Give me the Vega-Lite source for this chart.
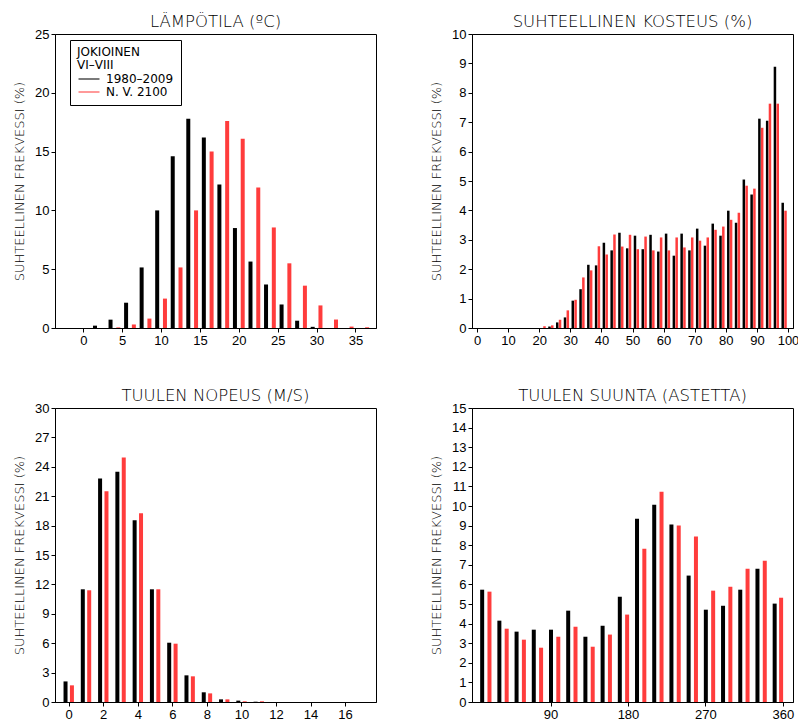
{
  "$schema": "https://vega.github.io/schema/vega-lite/v6.json",
  "background": "white",
  "padding": {"left": 13, "top": 13, "right": 5, "bottom": 0},
  "columns": 2,
  "bounds": "flush",
  "spacing": {"row": 80, "column": 96},
  "resolve": {"scale": {"color": "independent"}, "legend": {"color": "independent"}},
  "config": {
    "view": {"stroke": "black", "strokeWidth": 1},
    "axis": {
      "grid": false,
      "domainColor": "black",
      "tickColor": "black",
      "tickSize": 4,
      "labelPadding": 2,
      "labelFont": "Liberation Sans",
      "labelFontSize": 13,
      "labelColor": "black",
      "titleFont": "DejaVu Sans",
      "titleFontSize": 13,
      "titleFontWeight": 200,
      "titleColor": "black",
      "titlePadding": 8
    },
    "title": {
      "font": "DejaVu Sans",
      "fontSize": 16.5,
      "fontWeight": 200,
      "color": "black",
      "offset": -2,
      "baseline": "alphabetic",
      "anchor": "middle",
      "frame": "group"
    }
  },
  "datasets": {
    "temp": [
      {"x": 1.5, "series": "1980–2009", "freq": 0.2},
      {"x": 3.5, "series": "1980–2009", "freq": 0.71},
      {"x": 5.5, "series": "1980–2009", "freq": 2.15},
      {"x": 7.5, "series": "1980–2009", "freq": 5.15},
      {"x": 9.5, "series": "1980–2009", "freq": 10.0},
      {"x": 11.5, "series": "1980–2009", "freq": 14.6},
      {"x": 13.5, "series": "1980–2009", "freq": 17.8},
      {"x": 15.5, "series": "1980–2009", "freq": 16.2},
      {"x": 17.5, "series": "1980–2009", "freq": 12.2},
      {"x": 19.5, "series": "1980–2009", "freq": 8.5},
      {"x": 21.5, "series": "1980–2009", "freq": 5.65},
      {"x": 23.5, "series": "1980–2009", "freq": 3.7},
      {"x": 25.5, "series": "1980–2009", "freq": 2.0},
      {"x": 27.5, "series": "1980–2009", "freq": 0.62},
      {"x": 29.5, "series": "1980–2009", "freq": 0.1},
      {"x": 31.5, "series": "1980–2009", "freq": 0},
      {"x": 4.5, "series": "N. V. 2100", "freq": 0.05},
      {"x": 6.5, "series": "N. V. 2100", "freq": 0.3},
      {"x": 8.5, "series": "N. V. 2100", "freq": 0.8},
      {"x": 10.5, "series": "N. V. 2100", "freq": 2.5},
      {"x": 12.5, "series": "N. V. 2100", "freq": 5.15},
      {"x": 14.5, "series": "N. V. 2100", "freq": 10.0},
      {"x": 16.5, "series": "N. V. 2100", "freq": 15.0},
      {"x": 18.5, "series": "N. V. 2100", "freq": 17.6},
      {"x": 20.5, "series": "N. V. 2100", "freq": 16.1},
      {"x": 22.5, "series": "N. V. 2100", "freq": 11.95},
      {"x": 24.5, "series": "N. V. 2100", "freq": 8.55},
      {"x": 26.5, "series": "N. V. 2100", "freq": 5.5},
      {"x": 28.5, "series": "N. V. 2100", "freq": 3.6},
      {"x": 30.5, "series": "N. V. 2100", "freq": 1.92},
      {"x": 32.5, "series": "N. V. 2100", "freq": 0.72},
      {"x": 34.5, "series": "N. V. 2100", "freq": 0.12},
      {"x": 36.5, "series": "N. V. 2100", "freq": 0.06}
    ],
    "rh": [
      {"x": 20.8, "series": "1980–2009", "freq": 0},
      {"x": 23.3, "series": "1980–2009", "freq": 0.05},
      {"x": 25.8, "series": "1980–2009", "freq": 0.19},
      {"x": 28.3, "series": "1980–2009", "freq": 0.36},
      {"x": 30.8, "series": "1980–2009", "freq": 0.93},
      {"x": 33.3, "series": "1980–2009", "freq": 1.32},
      {"x": 35.8, "series": "1980–2009", "freq": 2.15},
      {"x": 38.3, "series": "1980–2009", "freq": 2.13},
      {"x": 40.8, "series": "1980–2009", "freq": 2.9},
      {"x": 43.3, "series": "1980–2009", "freq": 2.64},
      {"x": 45.8, "series": "1980–2009", "freq": 3.24},
      {"x": 48.3, "series": "1980–2009", "freq": 2.71},
      {"x": 50.8, "series": "1980–2009", "freq": 3.14},
      {"x": 53.3, "series": "1980–2009", "freq": 2.68},
      {"x": 55.8, "series": "1980–2009", "freq": 3.17},
      {"x": 58.3, "series": "1980–2009", "freq": 2.6},
      {"x": 60.8, "series": "1980–2009", "freq": 3.21},
      {"x": 63.3, "series": "1980–2009", "freq": 2.46},
      {"x": 65.8, "series": "1980–2009", "freq": 3.21},
      {"x": 68.3, "series": "1980–2009", "freq": 2.64},
      {"x": 70.8, "series": "1980–2009", "freq": 3.38},
      {"x": 73.3, "series": "1980–2009", "freq": 2.8},
      {"x": 75.8, "series": "1980–2009", "freq": 3.55},
      {"x": 78.3, "series": "1980–2009", "freq": 3.14},
      {"x": 80.8, "series": "1980–2009", "freq": 3.99},
      {"x": 83.3, "series": "1980–2009", "freq": 3.58},
      {"x": 85.8, "series": "1980–2009", "freq": 5.05},
      {"x": 88.3, "series": "1980–2009", "freq": 4.54},
      {"x": 90.8, "series": "1980–2009", "freq": 7.12},
      {"x": 93.3, "series": "1980–2009", "freq": 7.05},
      {"x": 95.8, "series": "1980–2009", "freq": 8.89},
      {"x": 98.3, "series": "1980–2009", "freq": 4.26},
      {"x": 21.7, "series": "N. V. 2100", "freq": 0.06},
      {"x": 24.2, "series": "N. V. 2100", "freq": 0.09},
      {"x": 26.7, "series": "N. V. 2100", "freq": 0.28},
      {"x": 29.2, "series": "N. V. 2100", "freq": 0.6},
      {"x": 31.7, "series": "N. V. 2100", "freq": 0.96},
      {"x": 34.2, "series": "N. V. 2100", "freq": 1.72},
      {"x": 36.7, "series": "N. V. 2100", "freq": 1.96},
      {"x": 39.2, "series": "N. V. 2100", "freq": 2.78},
      {"x": 41.7, "series": "N. V. 2100", "freq": 2.5},
      {"x": 44.2, "series": "N. V. 2100", "freq": 3.18},
      {"x": 46.7, "series": "N. V. 2100", "freq": 2.77},
      {"x": 49.2, "series": "N. V. 2100", "freq": 3.17},
      {"x": 51.7, "series": "N. V. 2100", "freq": 2.68},
      {"x": 54.2, "series": "N. V. 2100", "freq": 3.11},
      {"x": 56.7, "series": "N. V. 2100", "freq": 2.64},
      {"x": 59.2, "series": "N. V. 2100", "freq": 3.08},
      {"x": 61.7, "series": "N. V. 2100", "freq": 2.64},
      {"x": 64.2, "series": "N. V. 2100", "freq": 3.08},
      {"x": 66.7, "series": "N. V. 2100", "freq": 2.74},
      {"x": 69.2, "series": "N. V. 2100", "freq": 3.08},
      {"x": 71.7, "series": "N. V. 2100", "freq": 2.97},
      {"x": 74.2, "series": "N. V. 2100", "freq": 3.08},
      {"x": 76.7, "series": "N. V. 2100", "freq": 3.34},
      {"x": 79.2, "series": "N. V. 2100", "freq": 3.45},
      {"x": 81.7, "series": "N. V. 2100", "freq": 3.68},
      {"x": 84.2, "series": "N. V. 2100", "freq": 3.92},
      {"x": 86.7, "series": "N. V. 2100", "freq": 4.84},
      {"x": 89.2, "series": "N. V. 2100", "freq": 4.74},
      {"x": 91.7, "series": "N. V. 2100", "freq": 6.81},
      {"x": 94.2, "series": "N. V. 2100", "freq": 7.63},
      {"x": 96.7, "series": "N. V. 2100", "freq": 7.63},
      {"x": 99.2, "series": "N. V. 2100", "freq": 3.99}
    ],
    "ws": [
      {"x": -0.18, "series": "1980–2009", "freq": 2.1},
      {"x": 0.82, "series": "1980–2009", "freq": 11.5},
      {"x": 1.82, "series": "1980–2009", "freq": 22.8},
      {"x": 2.82, "series": "1980–2009", "freq": 23.5},
      {"x": 3.82, "series": "1980–2009", "freq": 18.55},
      {"x": 4.82, "series": "1980–2009", "freq": 11.5},
      {"x": 5.82, "series": "1980–2009", "freq": 6.05},
      {"x": 6.82, "series": "1980–2009", "freq": 2.72},
      {"x": 7.82, "series": "1980–2009", "freq": 0.99},
      {"x": 8.82, "series": "1980–2009", "freq": 0.27},
      {"x": 9.82, "series": "1980–2009", "freq": 0.14},
      {"x": 10.82, "series": "1980–2009", "freq": 0.03},
      {"x": 0.19, "series": "N. V. 2100", "freq": 1.7},
      {"x": 1.19, "series": "N. V. 2100", "freq": 11.4},
      {"x": 2.19, "series": "N. V. 2100", "freq": 21.5},
      {"x": 3.19, "series": "N. V. 2100", "freq": 24.95},
      {"x": 4.19, "series": "N. V. 2100", "freq": 19.25},
      {"x": 5.19, "series": "N. V. 2100", "freq": 11.5},
      {"x": 6.19, "series": "N. V. 2100", "freq": 5.95},
      {"x": 7.19, "series": "N. V. 2100", "freq": 2.62},
      {"x": 8.19, "series": "N. V. 2100", "freq": 0.88},
      {"x": 9.19, "series": "N. V. 2100", "freq": 0.27},
      {"x": 10.19, "series": "N. V. 2100", "freq": 0.07},
      {"x": 11.19, "series": "N. V. 2100", "freq": 0.07}
    ],
    "wd": [
      {"x": 10.5, "series": "1980–2009", "freq": 5.73},
      {"x": 30.5, "series": "1980–2009", "freq": 4.15},
      {"x": 50.5, "series": "1980–2009", "freq": 3.59},
      {"x": 70.5, "series": "1980–2009", "freq": 3.69},
      {"x": 90.5, "series": "1980–2009", "freq": 3.69},
      {"x": 110.5, "series": "1980–2009", "freq": 4.66},
      {"x": 130.5, "series": "1980–2009", "freq": 3.33},
      {"x": 150.5, "series": "1980–2009", "freq": 3.89},
      {"x": 170.5, "series": "1980–2009", "freq": 5.37},
      {"x": 190.5, "series": "1980–2009", "freq": 9.35},
      {"x": 210.5, "series": "1980–2009", "freq": 10.07},
      {"x": 230.5, "series": "1980–2009", "freq": 9.05},
      {"x": 250.5, "series": "1980–2009", "freq": 6.45},
      {"x": 270.5, "series": "1980–2009", "freq": 4.71},
      {"x": 290.5, "series": "1980–2009", "freq": 4.91},
      {"x": 310.5, "series": "1980–2009", "freq": 5.73},
      {"x": 330.5, "series": "1980–2009", "freq": 6.8},
      {"x": 350.5, "series": "1980–2009", "freq": 5.02},
      {"x": 19, "series": "N. V. 2100", "freq": 5.63},
      {"x": 39, "series": "N. V. 2100", "freq": 3.74},
      {"x": 59, "series": "N. V. 2100", "freq": 3.18},
      {"x": 79, "series": "N. V. 2100", "freq": 2.77},
      {"x": 99, "series": "N. V. 2100", "freq": 3.33},
      {"x": 119, "series": "N. V. 2100", "freq": 3.84},
      {"x": 139, "series": "N. V. 2100", "freq": 2.82},
      {"x": 159, "series": "N. V. 2100", "freq": 3.44},
      {"x": 179, "series": "N. V. 2100", "freq": 4.46},
      {"x": 199, "series": "N. V. 2100", "freq": 7.82},
      {"x": 219, "series": "N. V. 2100", "freq": 10.73},
      {"x": 239, "series": "N. V. 2100", "freq": 9.0},
      {"x": 259, "series": "N. V. 2100", "freq": 8.44},
      {"x": 279, "series": "N. V. 2100", "freq": 5.68},
      {"x": 299, "series": "N. V. 2100", "freq": 5.88},
      {"x": 319, "series": "N. V. 2100", "freq": 6.8},
      {"x": 339, "series": "N. V. 2100", "freq": 7.21},
      {"x": 358, "series": "N. V. 2100", "freq": 5.32}
    ]
  },
  "concat": [
    {
      "title": "LÄMPÖTILA (ºC)",
      "width": 321,
      "height": 294,
      "data": {"name": "temp"},
      "mark": {"type": "bar", "size": 4},
      "encoding": {
        "x": {"field": "x", "type": "quantitative", "scale": {"domain": [-3, 37], "nice": false, "zero": false}, "axis": {"values": [0, 5, 10, 15, 20, 25, 30, 35], "title": null}},
        "y": {"field": "freq", "type": "quantitative", "scale": {"domain": [0, 25], "nice": false}, "axis": {"values": [0, 5, 10, 15, 20, 25], "title": "SUHTEELLINEN FREKVESSI (%)"}},
        "color": {
          "field": "series", "type": "nominal",
          "scale": {"domain": ["1980–2009", "N. V. 2100"], "range": ["black", "#ff3c3c"]},
          "legend": {
            "orient": "none", "legendX": 15, "legendY": 6,
            "title": ["JOKIOINEN", "VI–VIII"],
            "titleFont": "DejaVu Sans", "titleFontSize": 12, "titleFontWeight": "normal", "titleColor": "black", "titleLineHeight": 13, "titlePadding": 1,
            "labelFont": "DejaVu Sans", "labelFontSize": 12, "labelColor": "black", "labelOffset": 11,
            "strokeColor": "black", "fillColor": "white", "padding": 7, "cornerRadius": 0,
            "symbolType": "M-2,-0.1H2V0.1H-2Z", "symbolSize": 110, "symbolOffset": 6, "symbolStrokeWidth": 0, "rowPadding": 1
          }
        }
      }
    },
    {
      "title": "SUHTEELLINEN KOSTEUS (%)",
      "width": 321,
      "height": 294,
      "data": {"name": "rh"},
      "mark": {"type": "bar", "size": 2.5},
      "encoding": {
        "x": {"field": "x", "type": "quantitative", "scale": {"domain": [0, 100], "nice": false}, "axis": {"values": [0, 10, 20, 30, 40, 50, 60, 70, 80, 90, 100], "title": null}},
        "y": {"field": "freq", "type": "quantitative", "scale": {"domain": [0, 10], "nice": false}, "axis": {"values": [0, 1, 2, 3, 4, 5, 6, 7, 8, 9, 10], "title": "SUHTEELLINEN FREKVESSI (%)"}},
        "color": {"field": "series", "type": "nominal", "scale": {"domain": ["1980–2009", "N. V. 2100"], "range": ["black", "#ff3c3c"]}, "legend": null}
      }
    },
    {
      "title": "TUULEN NOPEUS (M/S)",
      "width": 321,
      "height": 294,
      "data": {"name": "ws"},
      "mark": {"type": "bar", "size": 4},
      "encoding": {
        "x": {"field": "x", "type": "quantitative", "scale": {"domain": [-0.5, 17.5], "nice": false, "zero": false}, "axis": {"values": [0, 2, 4, 6, 8, 10, 12, 14, 16], "title": null}},
        "y": {"field": "freq", "type": "quantitative", "scale": {"domain": [0, 30], "nice": false}, "axis": {"values": [0, 3, 6, 9, 12, 15, 18, 21, 24, 27, 30], "title": "SUHTEELLINEN FREKVESSI (%)"}},
        "color": {"field": "series", "type": "nominal", "scale": {"domain": ["1980–2009", "N. V. 2100"], "range": ["black", "#ff3c3c"]}, "legend": null}
      }
    },
    {
      "title": "TUULEN SUUNTA (ASTETTA)",
      "width": 321,
      "height": 294,
      "data": {"name": "wd"},
      "mark": {"type": "bar", "size": 4},
      "encoding": {
        "x": {"field": "x", "type": "quantitative", "scale": {"domain": [4.5, 366], "nice": false, "zero": false}, "axis": {"values": [90, 180, 270, 360], "title": null}},
        "y": {"field": "freq", "type": "quantitative", "scale": {"domain": [0, 15], "nice": false}, "axis": {"values": [0, 1, 2, 3, 4, 5, 6, 7, 8, 9, 10, 11, 12, 13, 14, 15], "title": "SUHTEELLINEN FREKVESSI (%)"}},
        "color": {"field": "series", "type": "nominal", "scale": {"domain": ["1980–2009", "N. V. 2100"], "range": ["black", "#ff3c3c"]}, "legend": null}
      }
    }
  ]
}
